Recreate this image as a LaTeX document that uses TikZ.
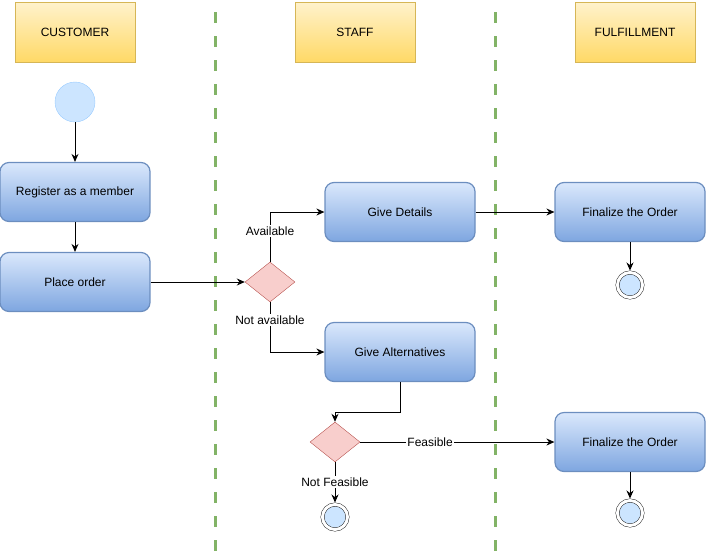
\documentclass[tikz,border=0pt]{standalone}
\usepackage{fontspec}
\setmainfont{Liberation Sans}
\usetikzlibrary{shapes.geometric,positioning,calc,arrows.meta}
\definecolor{laneline}{HTML}{82b366}
\definecolor{headtop}{HTML}{fff2cc}
\definecolor{headbot}{HTML}{ffd966}
\definecolor{headdraw}{HTML}{d6b656}
\definecolor{acttop}{HTML}{dae8fc}
\definecolor{actbot}{HTML}{7ea6e0}
\definecolor{actdraw}{HTML}{6c8ebf}
\definecolor{decfill}{HTML}{f8cecc}
\definecolor{decdraw}{HTML}{b85450}
\definecolor{startfill}{HTML}{cce5ff}
\definecolor{startdraw}{HTML}{99ccff}

\tikzset{
  header/.style={draw=headdraw, top color=headtop, bottom color=headbot,
    minimum width=120, minimum height=60, inner sep=0},
  activity/.style={draw=actdraw, line width=1.2pt, rounded corners=9, top color=acttop,
    bottom color=actbot, minimum width=150, minimum height=59, inner sep=0},
  decision/.style={diamond, draw=decdraw, fill=decfill, minimum width=50,
    minimum height=40, inner sep=0},
  startnode/.style={circle, draw=startdraw, fill=startfill, minimum size=40, inner sep=0},
  endnode/.style={circle, draw=black, fill=startfill, minimum size=25, inner sep=0,
    double=white, double distance=3, outer sep=2},
  flow/.style={-{Stealth[length=8,width=7]}, line width=0.9pt},
  lbl/.style={fill=white, inner sep=1.5},
  lane/.style={laneline, line width=3, dash pattern=on 11 off 13}
}

\begin{document}
\begin{tikzpicture}[x=1pt, y=-1pt, font=\fontsize{12}{14}\selectfont]
  \useasboundingbox (0,0) rectangle (706,555);

  % swimlane headers and separators
  \node[header] (hcust) at (75,32) {CUSTOMER};
  \node[header] (hstaff) at (355,32) {STAFF};
  \node[header] (hful) at (635,32) {FULFILLMENT};
  \draw[lane] (215,12) -- (215,555);
  \draw[lane] (495,12) -- (495,555);

  % customer
  \node[startnode] (start) at (75,102) {};
  \node[activity] (register) at (75,192) {Register as a member};
  \node[activity] (order) at (75,282) {Place order};

  % staff
  \node[decision] (avail) at (270,282) {};
  \node[activity] (details) at (400,212) {Give Details};
  \node[activity] (altern) at (400,352) {Give Alternatives};
  \node[decision] (feas) at (335,442) {};
  \node[endnode] (endstaff) at (335,517) {};

  % fulfillment
  \node[activity] (final1) at (630,212) {Finalize the Order};
  \node[endnode] (end1) at (630,285) {};
  \node[activity] (final2) at (630,442) {Finalize the Order};
  \node[endnode] (end2) at (630,513) {};

  % flows
  \draw[flow] (start) -- (register);
  \draw[flow] (register) -- (order);
  \draw[flow] (order) -- (avail.west);
  \draw[flow] (avail.north) |- node[lbl, pos=0.31] {Available} (details.west);
  \draw[flow] (avail.south) |- node[lbl, pos=0.18] {Not available} (altern.west);
  \draw[flow] (details) -- (final1);
  \draw[flow] (final1) -- (end1);
  \draw[flow] (altern.south) -- ++(0,30) -| (feas.north);
  \draw[flow] (feas.east) -- node[lbl, pos=0.36] {Feasible} (final2.west);
  \draw[flow] (feas.south) -- node[lbl, pos=0.5] {Not Feasible} (endstaff);
  \draw[flow] (final2) -- (end2);
\end{tikzpicture}
\end{document}
